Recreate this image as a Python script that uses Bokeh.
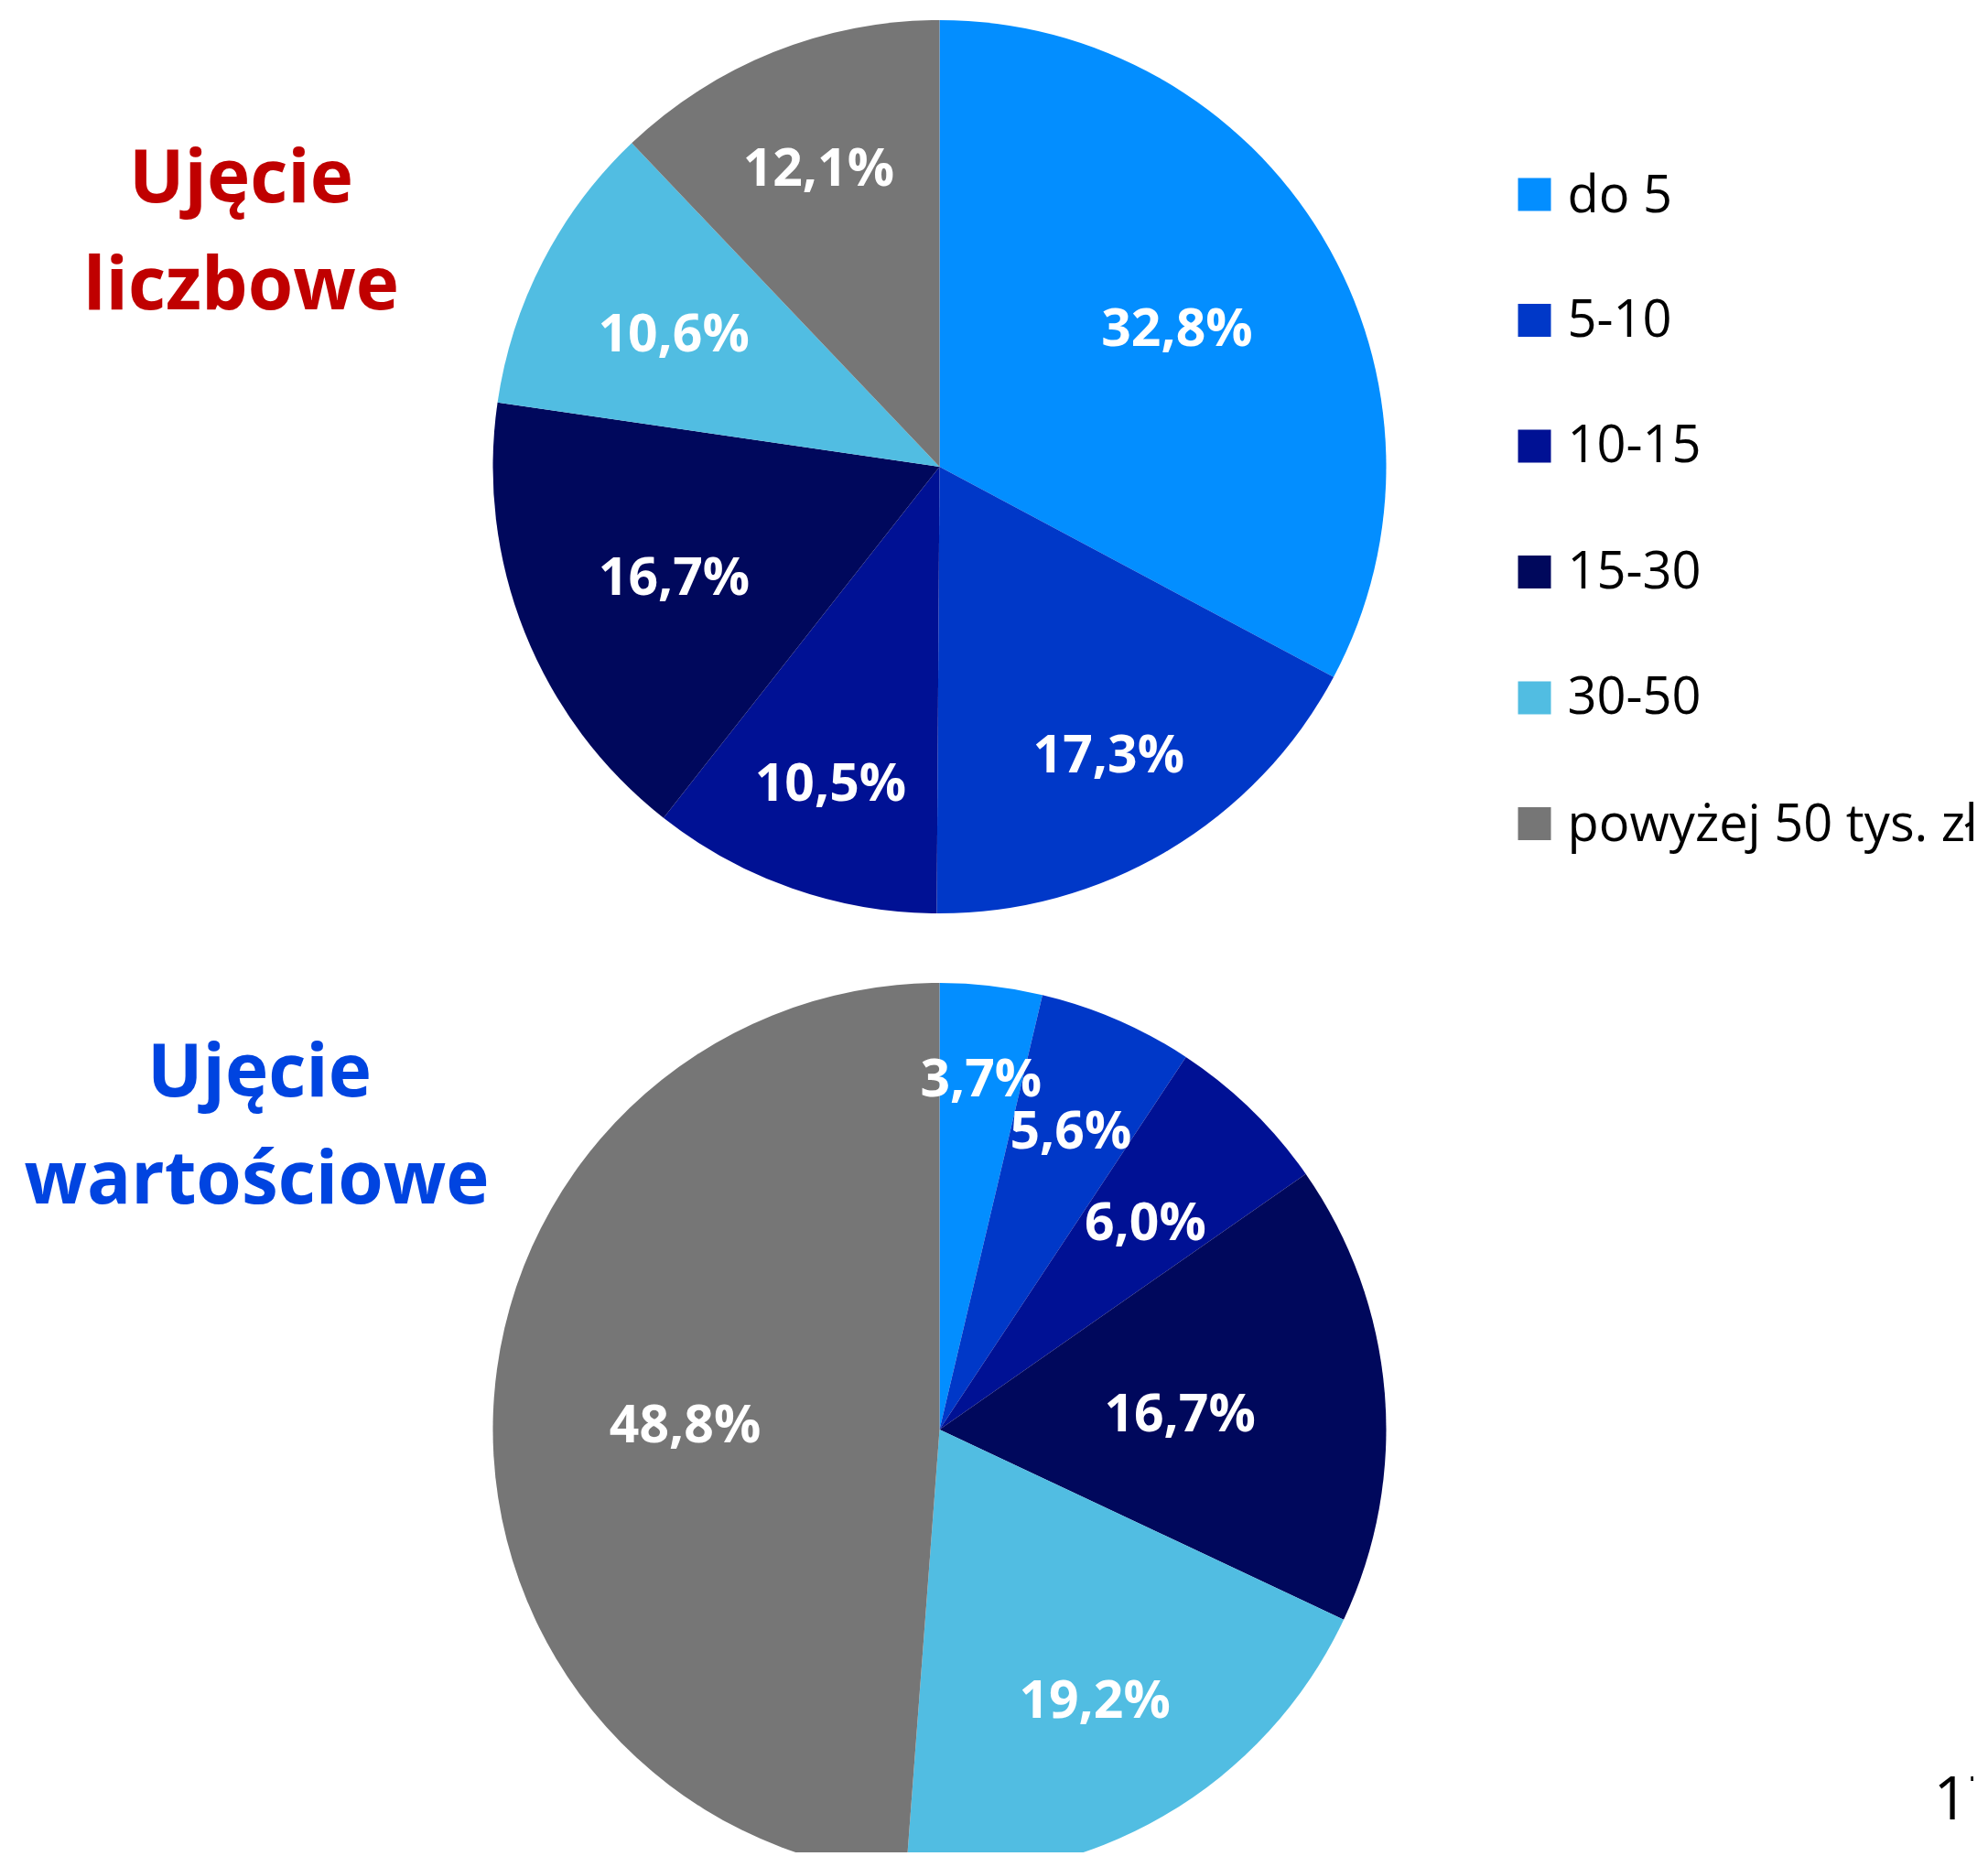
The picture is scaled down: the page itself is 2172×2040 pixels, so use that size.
import math
from bokeh.plotting import figure
from bokeh.models import Range1d, ColumnDataSource
from bokeh.embed import file_html
from bokeh.resources import INLINE
from bokeh.core.properties import value

# ---------------- data ----------------
categories = ["do 5", "5-10", "10-15", "15-30", "30-50", "powyżej 50 tys. zł"]
count_share = [32.8, 17.3, 10.5, 16.7, 10.6, 12.1]   # Ujęcie liczbowe (%)
value_share = [3.7, 5.6, 6.0, 16.7, 19.2, 48.8]      # Ujęcie wartościowe (%)
title_count = ["Ujęcie", "liczbowe"]
title_value = ["Ujęcie", "wartościowe"]
page_number = "17"

# ---------------- style / layout ----------------
colors = ["#038EFF", "#0038C8", "#001194", "#00085C", "#51BDE2", "#767676"]
label_r_count = [0.62, 0.74, 0.74, 0.64, 0.67, 0.73]
label_r_value = [0.80, 0.74, 0.66, 0.54, 0.69, 0.57]
FONT = "Open Sans"

W, H = 2156, 2024
p = figure(width=W, height=H,
           x_range=Range1d(0, W), y_range=Range1d(-H, 0),
           output_backend="svg", toolbar_location=None, min_border=0,
           x_axis_type=None, y_axis_type=None)
p.grid.visible = False
p.outline_line_color = None
p.background_fill_color = "white"
p.border_fill_color = "white"


def draw_pie(cx, cy, r, shares, rfrac):
    total = float(sum(shares))
    cum = 0.0
    starts, ends, lx, ly, labels = [], [], [], [], []
    for s, f in zip(shares, rfrac):
        a0 = cum / total
        a1 = (cum + s) / total
        starts.append(math.pi / 2 - a1 * 2 * math.pi)
        ends.append(math.pi / 2 - a0 * 2 * math.pi)
        mid = (a0 + a1) / 2 * 2 * math.pi
        lx.append(cx + f * r * math.sin(mid))
        ly.append(-cy + f * r * math.cos(mid))
        labels.append(f"{s:.1f}".replace(".", ",") + "%")
        cum += s
    src = ColumnDataSource(dict(start=starts, end=ends, color=colors,
                                lx=lx, ly=ly, label=labels))
    p.wedge(x=cx, y=-cy, radius=r, start_angle="start", end_angle="end",
            fill_color="color", line_color=None, source=src)
    p.text(x="lx", y="ly", text="label", source=src,
           text_font=value(FONT), text_font_style="bold",
           text_font_size="57px", text_color="white",
           text_align="center", text_baseline="alphabetic", y_offset=2)


draw_pie(1026, 509.5, 488, count_share, label_r_count)
draw_pie(1026, 1561.5, 488, value_share, label_r_value)

# titles
p.text(x=[263, 263], y=[-222, -339], text=title_count,
       text_font=value(FONT), text_font_style="bold", text_font_size="80px",
       text_color="#C00000", text_align="center", text_baseline="alphabetic",
       y_offset=-33)
p.text(x=[283, 280], y=[-1199, -1316], text=title_value,
       text_font=value(FONT), text_font_style="bold", text_font_size="80px",
       text_color="#0044E0", text_align="center", text_baseline="alphabetic",
       y_offset=-33)

# legend
row0, step = 212, 137.5
rows = [row0 + i * step for i in range(len(categories))]
leg = ColumnDataSource(dict(y=[-r for r in rows], label=categories, color=colors))
p.rect(x=1676, y="y", width=36, height=36, fill_color="color",
       line_color=None, source=leg)
p.text(x=1712, y="y", text="label", source=leg,
       text_font=value(FONT), text_font_size="56px", text_color="black",
       text_align="left", text_baseline="alphabetic", y_offset=-3)

# page number
p.text(x=[2112], y=[-1990], text=[page_number],
       text_font=value(FONT), text_font_size="66px", text_color="black",
       text_align="left", text_baseline="alphabetic", y_offset=-26)

open("out.html", "w").write(file_html(p, INLINE))
